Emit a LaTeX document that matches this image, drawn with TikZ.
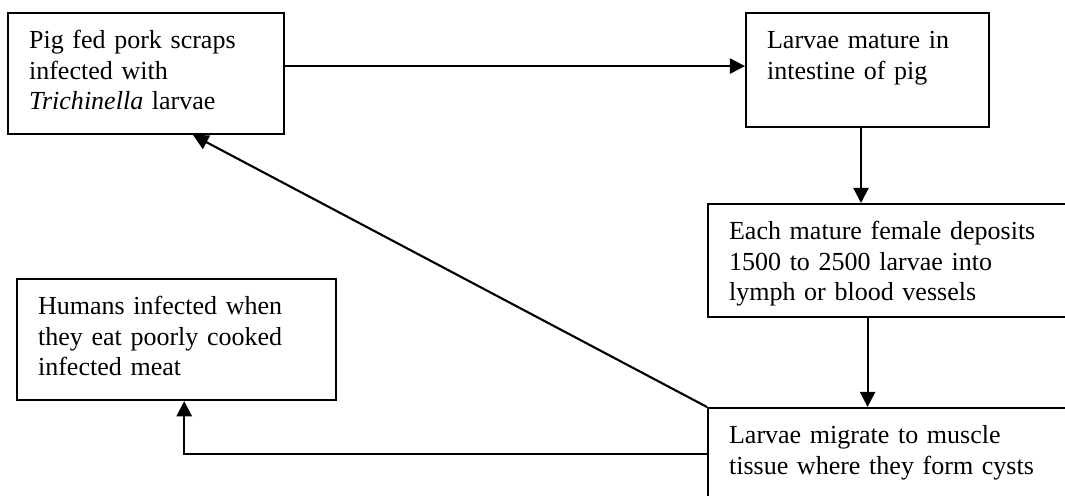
\documentclass[tikz,border=0pt]{standalone}
\usepackage{fontspec}
\setmainfont{Liberation Serif}
\usetikzlibrary{arrows.meta}

\begin{document}
\begin{tikzpicture}[x=0.025cm, y=-0.025cm,
    stage/.style={draw, line width=1.5pt, anchor=north west, align=left,
        inner xsep=0.525cm, inner ysep=0pt, text height=0.875cm,
        font=\fontsize{18.5pt}{22pt}\selectfont},
    flow/.style={line width=1.5pt, -{Triangle[length=0.38cm, width=0.38cm]}}]
    \useasboundingbox (0,0) rectangle (1065,495);
    \clip (0,0) rectangle (1065,495);

    % boxes, placed at their top left corners
    \node[stage, text width=5.85cm, text depth=2.15cm] (pig) at (7,12)
        {Pig fed pork scraps\\ infected with\\ \textit{Trichinella} larvae};
    \node[stage, text width=5.025cm, text depth=1.975cm] (mature) at (745,12)
        {Larvae mature in\\ intestine of pig};
    \node[stage, text width=8.45cm, text depth=1.95cm] (female) at (707,203)
        {Each mature female deposits\\ 1500 to 2500 larvae into\\ lymph or blood vessels};
    \node[stage, text width=8.45cm, text depth=1.4cm] (cysts) at (707,407)
        {Larvae migrate to muscle\\ tissue where they form cysts};
    \node[stage, text width=6.925cm, text depth=2.15cm] (humans) at (16,278)
        {Humans infected when\\ they eat poorly cooked\\ infected meat};

    % arrows
    \draw[flow] ([yshift=0.1875cm]pig.east) -- ([yshift=0.1875cm]pig.east -| mature.west);
    \draw[flow] ([xshift=-0.165cm]mature.south) -- ([xshift=-0.165cm]mature.south |- female.north);
    \draw[flow] (mature.south |- female.south) -- (mature.south |- cysts.north);
    \draw[flow] (cysts.north west) -- ([xshift=1.175cm]pig.south);
    \draw[flow] (cysts.west) -| ([xshift=0.19cm]humans.south);
\end{tikzpicture}
\end{document}
